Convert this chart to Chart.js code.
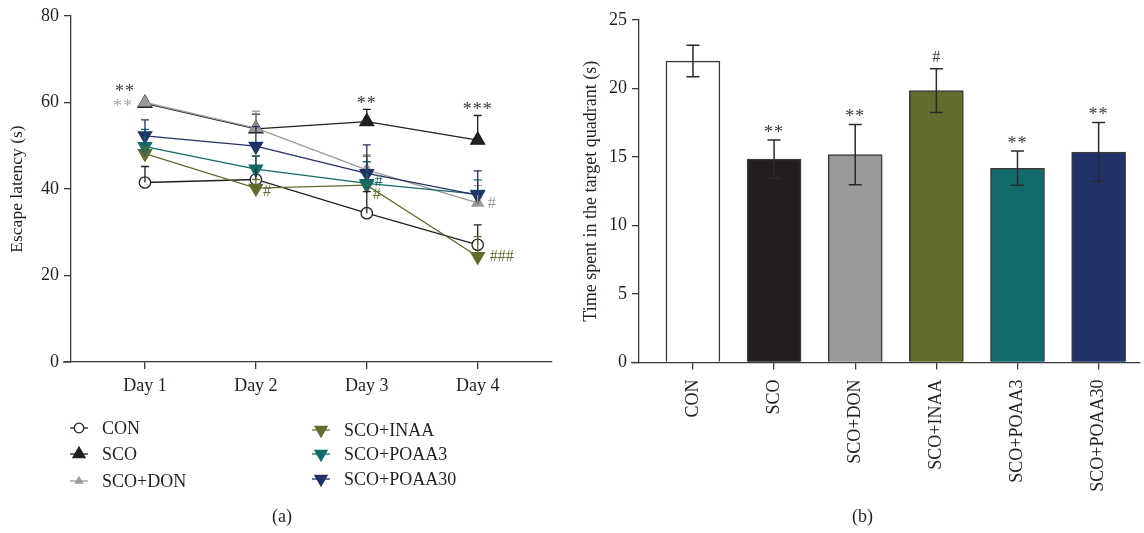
<!DOCTYPE html>
<html>
<head>
<meta charset="utf-8">
<script src="https://cdn.jsdelivr.net/npm/chart.js@4.4.1/dist/chart.umd.min.js"></script>
<style>
  body { margin: 0; background: #fff; width: 1144px; height: 533px; position: relative; overflow: hidden; font-family: "Liberation Serif", serif; }
  #latency { position: absolute; left: 0; top: 0; }
  #quadrant { position: absolute; left: 560px; top: 0; }
  .caption { position: absolute; top: 506px; font-size: 18px; color: #231f20; }
</style>
</head>
<body>
<canvas id="latency" width="560" height="533"></canvas>
<canvas id="quadrant" width="584" height="533"></canvas>
<div class="caption" style="left:272px">(a)</div>
<div class="caption" style="left:852px">(b)</div>
<script>
// Data
const dayLabels = ['Day 1', 'Day 2', 'Day 3', 'Day 4'];
const groupNames = ['CON', 'SCO', 'SCO+DON', 'SCO+INAA', 'SCO+POAA3', 'SCO+POAA30'];

const conLatency = [41.5, 42.2, 34.4, 27.1];
const conLatencyErr = [3.7, 5.4, 5.0, 4.6];
const scoLatency = [59.8, 53.9, 55.6, 51.3];
const scoLatencyErr = [0, 3.4, 2.8, 5.7];
const donLatency = [60.0, 54.1, 44.4, 36.8];
const donLatencyErr = [0, 3.9, 3.5, 4.0];
const inaaLatency = [48.2, 40.2, 40.9, 24.4];
const inaaLatencyErr = [1.5, 2.0, 6.7, 4.6];
const poaa3Latency = [49.8, 44.6, 41.3, 38.8];
const poaa3LatencyErr = [4.0, 3.0, 5.0, 3.3];
const poaa30Latency = [52.3, 49.9, 43.6, 38.6];
const poaa30LatencyErr = [3.7, 4.5, 6.6, 5.6];

const quadrantTime = [22.0, 14.85, 15.17, 19.85, 14.18, 15.36];
const quadrantErr = [1.15, 1.4, 2.2, 1.6, 1.25, 2.15];
const quadrantMarks = ['', '**', '**', '#', '**', '**'];

const latencyTicks = [0, 20, 40, 60, 80];
const quadrantTicks = [0, 5, 10, 15, 20, 25];

// Colours
const INK = '#231f20';
const AXIS = '#3a3a3a';
const GROUP_COLORS = ['#ffffff', '#231f20', '#9a9a9a', '#636b2f', '#126b6a', '#213268'];
const LINE_COLORS = ['#231f20', '#231f20', '#9a9a9a', '#636b2f', '#126b6a', '#213268'];

const FONT = '"Liberation Serif", "Times New Roman", serif';

// Significance marks on the line chart: series, day index, text, pixel offset from the point
const latencyMarks = [
  { series: 1, day: 0, text: '**', dx: -20, dy: -11, color: '#3a3a3a' },
  { series: 2, day: 0, text: '**', dx: -22, dy: 5, color: '#aaaaaa' },
  { series: 1, day: 2, text: '**', dx: 0, dy: -17, color: '#3a3a3a' },
  { series: 1, day: 3, text: '***', dx: 0, dy: -30, color: '#3a3a3a' },
  { series: 3, day: 1, text: '#', dx: 11, dy: 4, color: '#636b2f' },
  { series: 4, day: 2, text: '#', dx: 12, dy: -2, color: '#126b6a' },
  { series: 3, day: 2, text: '#', dx: 10, dy: 10, color: '#636b2f' },
  { series: 2, day: 3, text: '#', dx: 14, dy: 1, color: '#9a9a9a' },
  { series: 3, day: 3, text: '###', dx: 24, dy: 0, color: '#636b2f' }
];

/**
 * Line chart marker styles per group
 */
const markerStyles = [
  { pointStyle: 'circle', radius: 5.7, rotation: 0, fill: '#ffffff' },
  { pointStyle: 'triangle', radius: 8, rotation: 0, fill: '#231f20' },
  { pointStyle: 'triangle', radius: 6.5, rotation: 0, fill: '#9a9a9a' },
  { pointStyle: 'triangle', radius: 7.7, rotation: 180, fill: '#636b2f' },
  { pointStyle: 'triangle', radius: 7.7, rotation: 180, fill: '#126b6a' },
  { pointStyle: 'triangle', radius: 7.7, rotation: 180, fill: '#213268' }
];

const latencySeries = [conLatency, scoLatency, donLatency, inaaLatency, poaa3Latency, poaa30Latency];
const latencyErrors = [conLatencyErr, scoLatencyErr, donLatencyErr, inaaLatencyErr, poaa3LatencyErr, poaa30LatencyErr];

Chart.defaults.font.family = FONT;
Chart.defaults.color = INK;

/**
 * Error bar plugin
 *
 * Draws a whisker for every point of every dataset that has an `errors` array.
 * `twoSided` draws below the value as well.
 */
const errorBars = {
  id: 'errorBars',
  afterDatasetsDraw(chart, args, opts) {
    const ctx = chart.ctx;
    const yScale = chart.scales.y;
    chart.data.datasets.forEach((ds, i) => {
      if (!ds.errors) return;
      const meta = chart.getDatasetMeta(i);
      ctx.save();
      ctx.strokeStyle = ds.errorColor || AXIS;
      ctx.lineWidth = opts.width || 1.3;
      meta.data.forEach((el, j) => {
        const err = ds.errors[j];
        if (!err) return;
        const v = ds.data[j].y;
        const x = el.x;
        const top = yScale.getPixelForValue(v + err);
        const bottom = opts.twoSided ? yScale.getPixelForValue(v - err) : yScale.getPixelForValue(v);
        ctx.beginPath();
        ctx.moveTo(x, bottom);
        ctx.lineTo(x, top);
        ctx.moveTo(x - opts.cap, top);
        ctx.lineTo(x + opts.cap, top);
        if (opts.twoSided) {
          ctx.moveTo(x - opts.cap, bottom);
          ctx.lineTo(x + opts.cap, bottom);
        }
        ctx.stroke();
      });
      ctx.restore();
    });
  }
};

function drawText(ctx, text, x, y, color, size) {
  ctx.save();
  ctx.font = size + 'px ' + FONT;
  ctx.fillStyle = color;
  ctx.textAlign = 'center';
  ctx.textBaseline = 'middle';
  ctx.letterSpacing = text.indexOf('*') >= 0 ? '1px' : '0px';
  ctx.fillText(text, x, y);
  ctx.restore();
}

// Prism-style axis: x axis runs a little past the y axis
function drawAxisStub(chart) {
  const ctx = chart.ctx;
  const a = chart.chartArea;
  ctx.save();
  ctx.strokeStyle = AXIS;
  ctx.lineWidth = 1.3;
  ctx.beginPath();
  ctx.moveTo(a.left - 8, a.bottom);
  ctx.lineTo(a.left, a.bottom);
  ctx.stroke();
  ctx.restore();
}

const latencyDecor = {
  id: 'latencyDecor',
  afterDraw(chart) {
    const ctx = chart.ctx;
    drawAxisStub(chart);

    latencyMarks.forEach(m => {
      const el = chart.getDatasetMeta(m.series).data[m.day];
      const size = m.text.indexOf('*') >= 0 ? 18 : 16;
      drawText(ctx, m.text, el.x + m.dx, el.y + m.dy, m.color, size);
    });

    // Legend in two columns
    const rows = [[79, 428], [79, 454], [79, 481], [321, 430], [321, 454], [321, 479]];
    rows.forEach((pos, i) => {
      const [cx, cy] = pos;
      const st = markerStyles[i];
      ctx.save();
      ctx.strokeStyle = LINE_COLORS[i];
      ctx.lineWidth = 1.3;
      ctx.beginPath();
      ctx.moveTo(cx - 9, cy);
      ctx.lineTo(cx + 9, cy);
      ctx.stroke();
      ctx.fillStyle = st.fill;
      ctx.strokeStyle = LINE_COLORS[i];
      const r = i === 0 ? 4.8 : (i === 2 ? 4 : 7);
      Chart.helpers.drawPoint(ctx, { pointStyle: st.pointStyle, radius: r, rotation: st.rotation, borderWidth: 1.3 }, cx, cy);
      ctx.font = '18px ' + FONT;
      ctx.fillStyle = INK;
      ctx.textAlign = 'left';
      ctx.textBaseline = 'middle';
      ctx.fillText(groupNames[i], cx + 23, cy + 1);
      ctx.restore();
    });
  }
};

const quadrantDecor = {
  id: 'quadrantDecor',
  afterDraw(chart) {
    const ctx = chart.ctx;
    drawAxisStub(chart);
    const y = chart.scales.y;
    const meta = chart.getDatasetMeta(0);
    meta.data.forEach((el, i) => {
      if (!quadrantMarks[i]) return;
      const top = y.getPixelForValue(quadrantTime[i] + quadrantErr[i]);
      const isHash = quadrantMarks[i] === '#';
      drawText(ctx, quadrantMarks[i], el.x, top - (isHash ? 11 : 7), '#3a3a3a', isHash ? 16 : 18);
    });
  }
};

function axisCommon() {
  return {
    border: { display: true, color: AXIS, width: 1.3 },
    grid: { display: true, offset: false, drawOnChartArea: false, drawTicks: true, tickLength: 7, color: AXIS, lineWidth: 1.3 },
    ticks: { color: INK, font: { size: 18, family: FONT }, padding: 5 }
  };
}

// Left: escape latency line chart
const latencyDatasets = latencySeries.map((vals, i) => ({
  label: groupNames[i],
  data: vals.map((v, j) => ({ x: j + 1, y: v })),
  errors: latencyErrors[i],
  errorColor: LINE_COLORS[i],
  borderColor: LINE_COLORS[i],
  borderWidth: 1.3,
  backgroundColor: markerStyles[i].fill,
  pointBackgroundColor: markerStyles[i].fill,
  pointBorderColor: LINE_COLORS[i],
  pointBorderWidth: 1.3,
  pointStyle: markerStyles[i].pointStyle,
  pointRadius: markerStyles[i].radius,
  pointRotation: markerStyles[i].rotation,
  tension: 0,
  order: 6 - i
}));

const latX = axisCommon();
const latY = axisCommon();

new Chart(document.getElementById('latency'), {
  type: 'line',
  data: { datasets: latencyDatasets },
  options: {
    responsive: false,
    animation: false,
    layout: { autoPadding: false, padding: { top: 16, left: 0, right: 8, bottom: 0 } },
    plugins: {
      legend: { display: false },
      tooltip: { enabled: false },
      errorBars: { cap: 4, width: 1.3, twoSided: false }
    },
    scales: {
      x: {
        type: 'linear', min: 0.333, max: 4.67,
        ...latX,
        ticks: { ...latX.ticks, padding: 6, callback: v => dayLabels[v - 1] },
        afterBuildTicks: s => { s.ticks = dayLabels.map((d, i) => ({ value: i + 1 })); },
        afterFit: s => { s.height = 171; }
      },
      y: {
        min: 0, max: 80,
        ...latY,
        afterBuildTicks: s => { s.ticks = latencyTicks.map(v => ({ value: v })); },
        title: { display: true, text: 'Escape latency (s)', font: { size: 17.5, family: FONT }, color: INK, padding: { top: 7, bottom: 0 } },
        afterFit: s => { s.width = 71; }
      }
    }
  },
  plugins: [errorBars, latencyDecor]
});

// Right: time in target quadrant bar chart
const qX = axisCommon();
const qY = axisCommon();

new Chart(document.getElementById('quadrant'), {
  type: 'bar',
  data: {
    datasets: [{
      label: 'Time spent',
      data: quadrantTime.map((v, i) => ({ x: i + 1, y: v })),
      errors: quadrantErr,
      errorColor: '#2a2a2a',
      backgroundColor: GROUP_COLORS,
      borderColor: '#3a3a3a',
      borderWidth: 1.5,
      barThickness: 54
    }]
  },
  options: {
    responsive: false,
    animation: false,
    layout: { autoPadding: false, padding: { top: 20, left: 0, right: 4, bottom: 0 } },
    plugins: {
      legend: { display: false },
      tooltip: { enabled: false },
      errorBars: { cap: 6.5, width: 1.5, twoSided: true }
    },
    scales: {
      x: {
        type: 'linear', min: 0.335, max: 6.51, offset: false,
        ...qX,
        ticks: { ...qX.ticks, padding: 10, minRotation: 90, maxRotation: 90, callback: v => groupNames[v - 1] },
        afterBuildTicks: s => { s.ticks = groupNames.map((g, i) => ({ value: i + 1 })); },
        afterFit: s => { s.height = 170.5; }
      },
      y: {
        min: 0, max: 25,
        ...qY,
        afterBuildTicks: s => { s.ticks = quadrantTicks.map(v => ({ value: v })); },
        title: { display: true, text: 'Time spent in the target quadrant (s)', font: { size: 18, family: FONT }, color: INK, padding: { top: 20, bottom: 0 } },
        afterFit: s => { s.width = 79; }
      }
    }
  },
  plugins: [errorBars, quadrantDecor]
});
</script>
</body>
</html>
